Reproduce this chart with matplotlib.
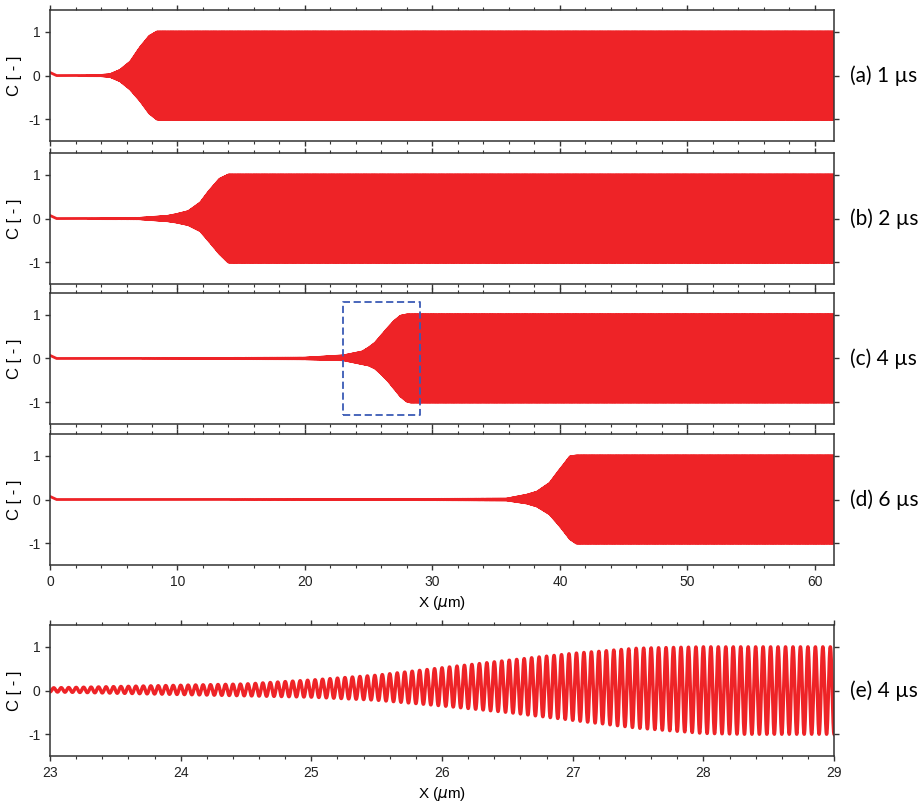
import numpy as np
import matplotlib
matplotlib.use("Agg")
import matplotlib.pyplot as plt
from matplotlib.ticker import MultipleLocator

plt.rcParams['font.family'] = ['Liberation Sans', 'DejaVu Sans']
plt.rcParams['axes.unicode_minus'] = False

red = '#ee2327'
edge = '#333333'

# carrier wave: ~17.5 oscillations per micron
cycles_per_um = 17.5

# envelope points (x in um, upper and lower envelope of C)
env_a_x = [0.0, 0.5, 4.0, 4.7, 5.5, 6.3, 7.1, 7.8, 8.4, 61.5]
env_a_up = [0.07, 0.0, 0.004, 0.02, 0.12, 0.31, 0.65, 0.9, 1.0, 1.0]
env_a_lo = [0.07, 0.0, -0.004, -0.02, -0.12, -0.31, -0.58, -0.86, -1.0, -1.0]

env_b_x = [0.0, 0.5, 7.0, 9.2, 9.9, 10.85, 11.8, 12.5, 13.3, 14.0, 61.5]
env_b_up = [0.07, 0.0, 0.005, 0.05, 0.09, 0.16, 0.36, 0.63, 0.9, 1.0, 1.0]
env_b_lo = [0.07, 0.0, -0.005, -0.05, -0.08, -0.14, -0.28, -0.52, -0.8, -1.0, -1.0]

env_c_x = [0.0, 0.5, 15.0, 20.0, 23.0, 23.5, 24.0, 24.5, 25.0, 25.5, 26.0, 26.5, 27.0, 27.5, 28.0, 28.3, 61.5]
env_c_up = [0.07, 0.0, 0.004, 0.008, 0.06, 0.09, 0.12, 0.15, 0.24, 0.35, 0.52, 0.69, 0.85, 0.97, 1.0, 1.0, 1.0]
env_c_lo = [0.07, 0.0, -0.004, -0.008, -0.03, -0.06, -0.09, -0.12, -0.15, -0.22, -0.35, -0.5, -0.68, -0.86, -0.98, -1.0, -1.0]

env_d_x = [0.0, 0.5, 30.0, 35.8, 37.4, 38.2, 39.2, 40.0, 40.8, 41.3, 61.5]
env_d_up = [0.07, 0.0, 0.004, 0.01, 0.1, 0.17, 0.37, 0.68, 0.98, 1.0, 1.0]
env_d_lo = [0.07, 0.0, -0.004, -0.01, -0.08, -0.15, -0.33, -0.6, -0.9, -1.0, -1.0]

labels = ['(a) 1 \u00b5s', '(b) 2 \u00b5s', '(c) 4 \u00b5s', '(d) 6 \u00b5s', '(e) 4 \u00b5s']
zoom_box = [23, 29, -1.3, 1.3]


def signal(x, ex, up, lo):
    u = np.interp(x, ex, up)
    l = np.interp(x, ex, lo)
    return (u + l) / 2 + (u - l) / 2 * np.cos(2 * np.pi * cycles_per_um * x)


def style(ax, major, minor):
    ax.set_ylim(-1.5, 1.5)
    ax.set_yticks([-1, 0, 1])
    ax.xaxis.set_major_locator(MultipleLocator(major))
    ax.xaxis.set_minor_locator(MultipleLocator(minor))
    ax.tick_params(which='both', direction='out', top=True, right=True,
                   colors=edge, labelsize=10, labelcolor='#222222')
    ax.tick_params(which='major', length=3.5, width=1)
    ax.tick_params(which='minor', length=2, width=0.8)
    for s in ax.spines.values():
        s.set_color(edge)
        s.set_linewidth(1.1)
    ax.set_ylabel('C [ - ]', fontsize=12, labelpad=4)


fig = plt.figure(figsize=(9.21, 8.06), dpi=100)
left, width, height = 0.0543, 0.8513, 0.1625
bottoms = [0.825, 0.6476, 0.474, 0.299]
envs = [(env_a_x, env_a_up, env_a_lo), (env_b_x, env_b_up, env_b_lo),
        (env_c_x, env_c_up, env_c_lo), (env_d_x, env_d_up, env_d_lo)]

x = np.linspace(0, 61.5, 50000)
for i in range(4):
    ax = fig.add_axes([left, bottoms[i], width, height])
    ax.plot(x, signal(x, *envs[i]), color=red, lw=2)
    ax.set_xlim(0, 61.5)
    style(ax, 10, 2)
    if i < 3:
        ax.tick_params(labelbottom=False)
    else:
        ax.set_xlabel('X ($\\mu$m)', fontsize=11, labelpad=4)
    if i == 2:
        x0, x1, y0, y1 = zoom_box
        ax.plot([x0, x1, x1, x0, x0], [y0, y0, y1, y1, y0], color='#3a5bb5',
                lw=1.3, ls=(0, (4, 2)))
    ax.text(1.02, 0.5, labels[i], transform=ax.transAxes, va='center',
            ha='left', fontsize=15, family=['Lato', 'DejaVu Sans'])

ax = fig.add_axes([left, 0.062, width, height])
xe = np.linspace(23, 29, 8000)
ax.plot(xe, signal(xe, env_c_x, env_c_up, env_c_lo), color=red, lw=2.5)
ax.set_xlim(23, 29)
style(ax, 1, 0.2)
ax.set_xlabel('X ($\\mu$m)', fontsize=11, labelpad=4)
ax.text(1.02, 0.5, labels[4], transform=ax.transAxes, va='center',
        ha='left', fontsize=15, family=['Lato', 'DejaVu Sans'])

fig.savefig('out.png', dpi=100)
